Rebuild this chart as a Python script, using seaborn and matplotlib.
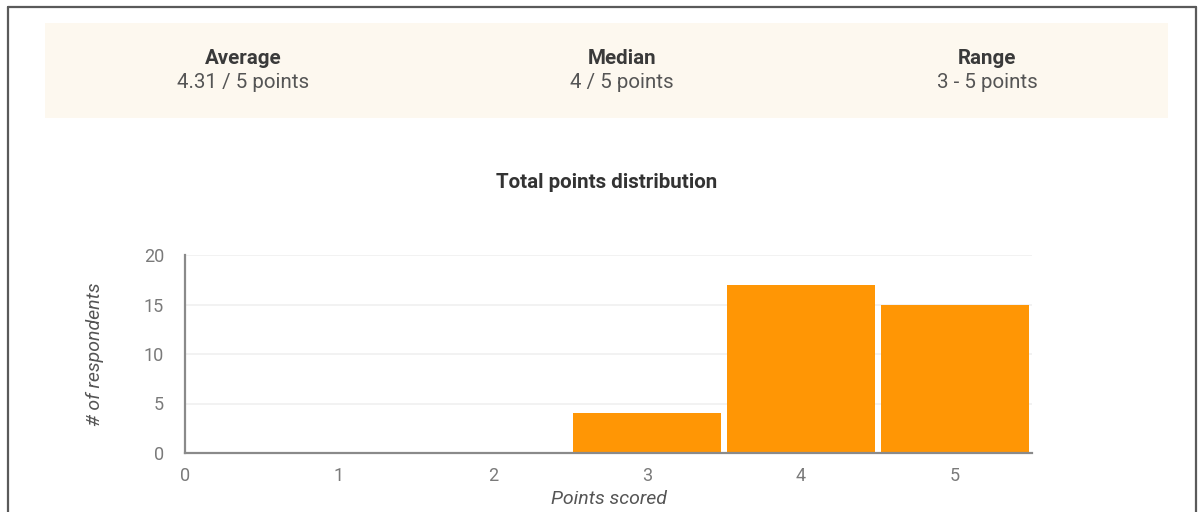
import matplotlib
matplotlib.use("Agg")
import matplotlib.pyplot as plt
from matplotlib.patches import Rectangle
from matplotlib.lines import Line2D
import seaborn as sns
import pandas as pd

# Quiz results: number of respondents per total score
points = [0, 1, 2, 3, 4, 5]
respondents = [0, 0, 0, 4, 17, 15]
y_ticks = [0, 5, 10, 15, 20]

summary_labels = ["Average", "Median", "Range"]
summary_values = ["4.31 / 5 points", "4 / 5 points", "3 - 5 points"]

chart_title = "Total points distribution"
x_label = "Points scored"
y_label = "# of respondents"

BAR_COLOR = "#ff9605"
PANEL_COLOR = "#fdf8ef"

sns.set_theme(style="white")
plt.rcParams["font.family"] = ["Roboto", "DejaVu Sans"]

W, H = 1201, 512
fig = plt.figure(figsize=(W / 100, H / 100), dpi=100)
fig.patch.set_facecolor("white")

def fx(px):
    return px / W

def fy(py):
    return 1 - py / H

# Card frame (left, top, right edges)
frame_kw = dict(color="#5a5a5a", linewidth=1.6, transform=fig.transFigure)
fig.add_artist(Line2D([fx(8), fx(8)], [fy(7), 0], **frame_kw))
fig.add_artist(Line2D([fx(8), fx(1196)], [fy(7), fy(7)], **frame_kw))
fig.add_artist(Line2D([fx(1196), fx(1196)], [fy(7), 0], **frame_kw))

# Summary panel
fig.add_artist(Rectangle((fx(45), fy(118)), fx(1168) - fx(45), fy(23) - fy(118),
                         facecolor=PANEL_COLOR, edgecolor="none",
                         transform=fig.transFigure, zorder=0))
for cx, lab, val in zip([243, 622, 987], summary_labels, summary_values):
    fig.text(fx(cx), fy(58), lab, ha="center", va="center", fontsize=14.8,
             fontweight="bold", color="#3a3a3a")
    fig.text(fx(cx), fy(82), val, ha="center", va="center", fontsize=14.8,
             color="#555555")

fig.text(fx(607), fy(182), chart_title, ha="center", va="center",
         fontsize=14.8, fontweight="bold", color="#333333")

# Histogram-style bar chart
ax = fig.add_axes([fx(185), fy(453), fx(1032) - fx(185), fy(255) - fy(453)])
df = pd.DataFrame({"points": points, "respondents": respondents})
sns.barplot(data=df, x="points", y="respondents", native_scale=True,
            width=0.955, color=BAR_COLOR, saturation=1, linewidth=0, ax=ax)

ax.set_xlim(0, 5.5)
ax.set_ylim(0, 20)
ax.set_yticks(y_ticks)
ax.set_xticks(points)
ax.set_xticklabels([str(p) for p in points])
ax.yaxis.grid(True, color="#f0f0f0", linewidth=1.2)
ax.set_axisbelow(True)
for side in ["top", "right"]:
    ax.spines[side].set_visible(False)
for side in ["left", "bottom"]:
    ax.spines[side].set_color("#8a8a8a")
    ax.spines[side].set_linewidth(1.6)
ax.spines["left"].set_zorder(5)
ax.spines["bottom"].set_zorder(5)
ax.tick_params(axis="both", length=0, labelsize=13, colors="#7a7a7a")
ax.tick_params(axis="y", pad=15)
ax.tick_params(axis="x", pad=10)
ax.set_xlabel(x_label, fontsize=14, fontstyle="italic", color="#555555", labelpad=4)
ax.set_ylabel(y_label, fontsize=14, fontstyle="italic", color="#555555", labelpad=29)

fig.savefig("out.png", dpi=100)
